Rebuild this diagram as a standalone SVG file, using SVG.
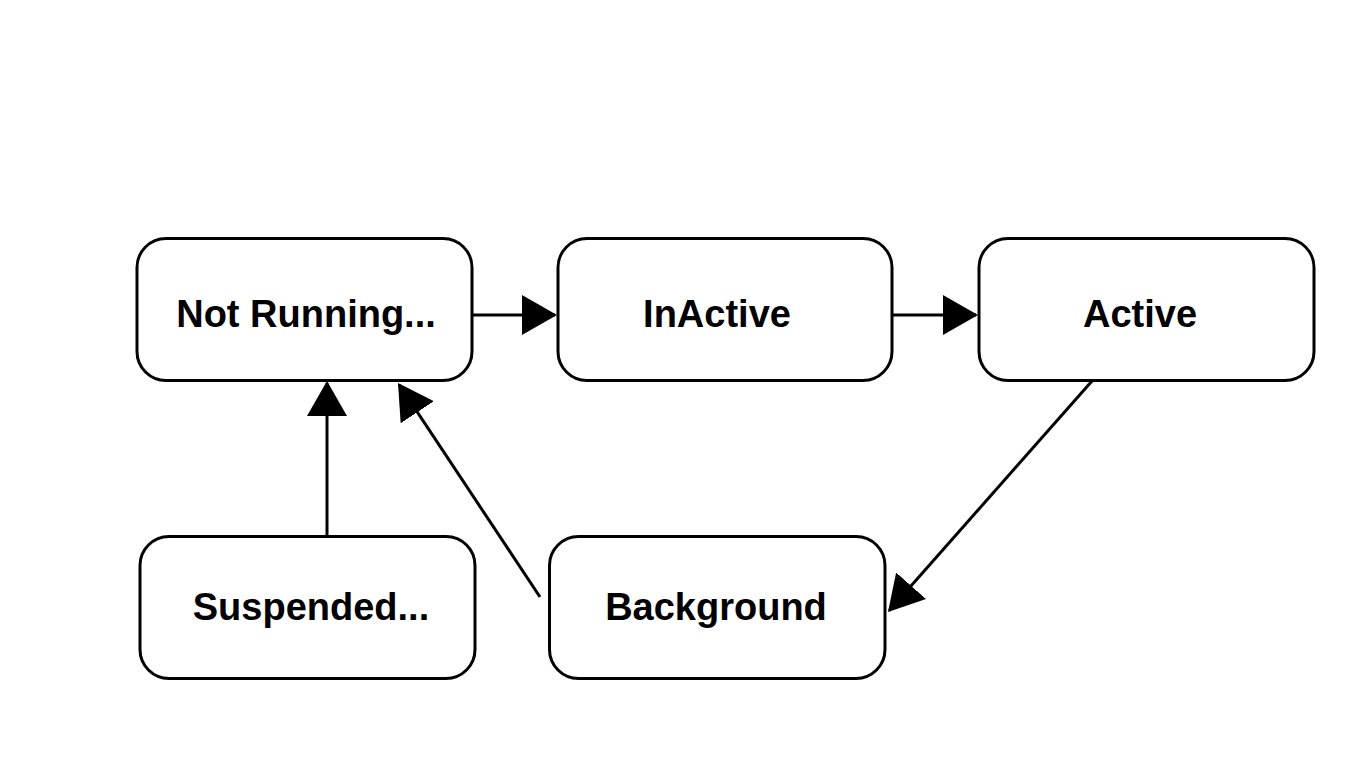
<svg xmlns="http://www.w3.org/2000/svg" width="1366" height="768" viewBox="0 0 1366 768">
  <style>
    .node rect { fill: #ffffff; stroke: #000000; stroke-width: 3; }
    .node text { font-family: "Liberation Sans", Arial, sans-serif; font-weight: bold; font-size: 38px; fill: #000000; text-anchor: middle; }
    .edge { stroke: #000000; stroke-width: 3; fill: none; marker-end: url(#arrow); }
  </style>
  <defs>
    <marker id="arrow" viewBox="0 0 35 40" refX="33" refY="20" markerWidth="35" markerHeight="40" markerUnits="userSpaceOnUse" orient="auto">
      <path d="M0,0 L35,20 L0,40 Z" fill="#000000"/>
    </marker>
  </defs>
  <rect x="0" y="0" width="1366" height="768" fill="#ffffff"/>
  <g id="connectors">
    <line class="edge" x1="473" y1="315" x2="555" y2="315"/>
    <line class="edge" x1="893" y1="315" x2="976" y2="315"/>
    <line class="edge" x1="327" y1="535" x2="327" y2="383"/>
    <line class="edge" x1="540" y1="597" x2="399.1" y2="384.7"/>
    <line class="edge" x1="1092" y1="381" x2="889.3" y2="610.5"/>
  </g>
  <g id="node-not-running" class="node">
    <rect x="137" y="238.5" width="335" height="142" rx="29" ry="29"/>
    <text x="306" y="327">Not Running...</text>
  </g>
  <g id="node-inactive" class="node">
    <rect x="558" y="238.5" width="334" height="142" rx="29" ry="29"/>
    <text x="717" y="327">InActive</text>
  </g>
  <g id="node-active" class="node">
    <rect x="979" y="238.5" width="335" height="142" rx="29" ry="29"/>
    <text x="1140" y="327">Active</text>
  </g>
  <g id="node-suspended" class="node">
    <rect x="140" y="536.5" width="335" height="142" rx="29" ry="29"/>
    <text x="311" y="620">Suspended...</text>
  </g>
  <g id="node-background" class="node">
    <rect x="549.5" y="536.5" width="335.5" height="142" rx="29" ry="29"/>
    <text x="716" y="620">Background</text>
  </g>
</svg>
